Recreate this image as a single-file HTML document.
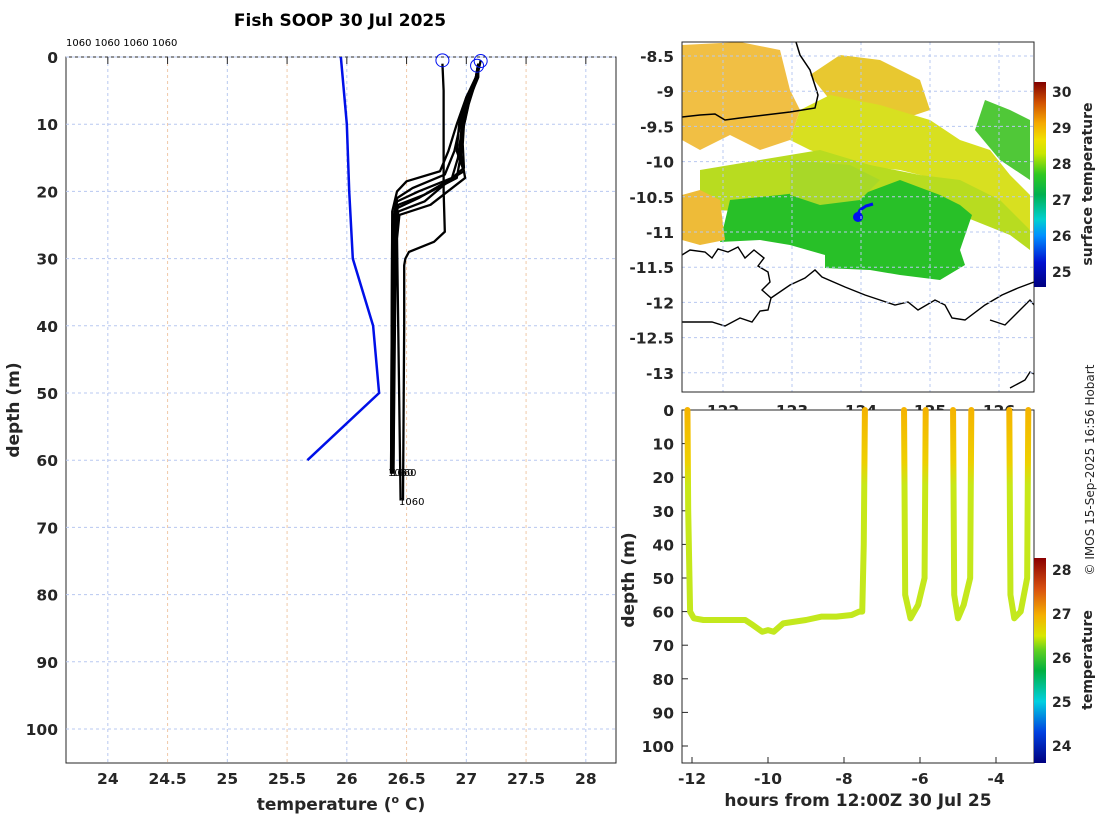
<!DOCTYPE html>
<html><head><meta charset="utf-8">
<style>
html,body{margin:0;padding:0;background:#fff;}
svg{display:block;font-family:"DejaVu Sans","Liberation Sans",sans-serif;}
.tk{font-size:15.5px;font-weight:bold;fill:#262626;}
</style></head>
<body>
<svg id="chart" width="1100" height="820" viewBox="0 0 1100 820">
<defs>
<linearGradient id="sstcb" x1="0" y1="1" x2="0" y2="0">
<stop offset="0" stop-color="#00007f"/><stop offset="0.12" stop-color="#0010d0"/><stop offset="0.25" stop-color="#0090ff"/>
<stop offset="0.33" stop-color="#00d0d0"/><stop offset="0.45" stop-color="#00b050"/><stop offset="0.55" stop-color="#30c820"/>
<stop offset="0.65" stop-color="#c8e600"/><stop offset="0.72" stop-color="#f0e000"/><stop offset="0.8" stop-color="#f5a800"/>
<stop offset="0.9" stop-color="#d05000"/><stop offset="1" stop-color="#800000"/>
</linearGradient>
<linearGradient id="tcb" x1="0" y1="1" x2="0" y2="0">
<stop offset="0" stop-color="#00007f"/><stop offset="0.15" stop-color="#0040e0"/><stop offset="0.3" stop-color="#00d0e0"/>
<stop offset="0.45" stop-color="#00b040"/><stop offset="0.55" stop-color="#60d020"/><stop offset="0.62" stop-color="#d8e800"/>
<stop offset="0.72" stop-color="#f5b000"/><stop offset="0.85" stop-color="#d85010"/><stop offset="1" stop-color="#8a0000"/>
</linearGradient>
<linearGradient id="trackgrad" gradientUnits="userSpaceOnUse" x1="0" y1="410" x2="0" y2="700">
<stop offset="0" stop-color="#f5b400"/><stop offset="0.18" stop-color="#eed000"/><stop offset="0.26" stop-color="#c8e818"/><stop offset="1" stop-color="#c0e820"/>
</linearGradient>
<clipPath id="mapclip"><rect x="682" y="42" width="352" height="350"/></clipPath>
</defs>

<text x="340" y="26" text-anchor="middle" font-size="17" font-weight="bold">Fish SOOP 30 Jul 2025</text>
<text x="66" y="46" font-size="10">1060 1060 1060 1060</text>

<g id="left">
<rect x="66" y="57" width="550" height="706" fill="#fff" stroke="#262626" stroke-width="1"/>
<g id="lgrid"></g><g id="lticks"></g><g id="lines"></g>
<text x="19" y="410" transform="rotate(-90 19 410)" text-anchor="middle" font-size="17" font-weight="bold" fill="#262626">depth (m)</text>
<text x="341" y="810" text-anchor="middle" font-size="17" font-weight="bold" fill="#262626">temperature (<tspan font-size="11" dy="-7">o</tspan><tspan dy="7"> C)</tspan></text>
</g>

<g id="map">
<g clip-path="url(#mapclip)">
<rect x="682" y="42" width="352" height="350" fill="#fff"/>
<polygon fill="#f0b830" opacity="0.9" points="682,45 740,42 780,50 790,90 800,110 790,140 760,150 730,135 700,150 682,140"/>
<polygon fill="#e8c830" points="810,75 840,55 880,60 920,80 930,110 900,120 860,110 830,100"/>
<polygon fill="#d8e020" points="800,110 830,95 880,105 930,120 960,140 990,150 1010,175 1030,195 1030,230 990,200 940,180 900,170 850,165 810,150 790,140"/>
<polygon fill="#b8dc20" points="700,170 760,160 820,150 870,165 920,175 960,180 1000,200 1030,230 1030,250 1010,235 960,215 700,210"/>
<polygon fill="#28c028" points="730,200 780,195 820,190 860,195 900,180 940,195 960,205 972,215 960,250 965,265 940,280 900,275 870,270 825,268 825,255 790,245 760,240 720,242"/>
<polygon fill="#a8d828" points="790,160 850,165 880,180 860,200 820,205 790,195"/>
<polygon fill="#eebb38" points="682,195 700,190 720,200 725,240 700,245 682,240"/>
<polygon fill="#50c838" points="985,100 1010,110 1030,120 1030,180 1000,160 975,130"/>
<path d="M682,117 L700,115 L715,114 L725,120 L740,118 L765,115 L790,112 L815,108 L818,95 L810,70 L800,55 L796,42" fill="none" stroke="#000" stroke-width="1.5"/>
<path d="M682,322 L712,322 L725,326 L740,318 L752,322 L760,311 L768,310 L771,298 L762,290 L770,282 L768,272 L758,266 L764,258 L754,250 L745,258 L738,247 L728,252 L718,249 L712,258 L705,252 L690,250 L682,255 M771,298 L790,285 L805,278 L815,270 L822,277 L845,287 L865,295 L880,300 L895,305 L908,302 L918,310 L935,300 L945,305 L952,318 L965,320 L985,305 L1002,295 L1018,288 L1034,282 M990,320 L1005,325 L1015,315 L1030,300 L1034,305 M1010,388 L1025,380 L1030,372 L1034,374" fill="none" stroke="#000" stroke-width="1.4"/>
<path d="M873,204 L866,206 L860,210 L857,216" fill="none" stroke="#0010f0" stroke-width="3"/>
<circle cx="858" cy="217" r="5" fill="#0010f0"/>
</g>
<g id="mapgrid"></g>
<rect x="682" y="42" width="352" height="350" fill="none" stroke="#262626"/>
<rect x="1034" y="82" width="12" height="205" fill="url(#sstcb)"/>
<g id="sstcbticks"></g>
<text x="1092" y="184" transform="rotate(-90 1092 184)" text-anchor="middle" font-size="14" font-weight="bold" fill="#262626">surface temperature</text>
</g>

<g id="br">
<rect x="682" y="410" width="352" height="353" fill="#fff" stroke="#262626"/>
<g id="brticks"></g><g id="track"></g>
<rect x="1034" y="558" width="12" height="205" fill="url(#tcb)"/>
<g id="tcbticks"></g>
<text x="1092" y="660" transform="rotate(-90 1092 660)" text-anchor="middle" font-size="14" font-weight="bold" fill="#262626">temperature</text>
<text x="634" y="580" transform="rotate(-90 634 580)" text-anchor="middle" font-size="17" font-weight="bold" fill="#262626">depth (m)</text>
<text x="858" y="806" text-anchor="middle" font-size="17" font-weight="bold" fill="#262626">hours from 12:00Z 30 Jul 25</text>
</g>
<text x="1094" y="470" transform="rotate(-90 1094 470)" text-anchor="middle" font-size="12" fill="#262626">© IMOS 15-Sep-2025 16:56 Hobart</text>
</svg>
<script>
const NS="http://www.w3.org/2000/svg";
// ---- data ----
const tempTicks=[24,24.5,25,25.5,26,26.5,27,27.5,28];
const depthTicks=[0,10,20,30,40,50,60,70,80,90,100];
const climDepth=[0,10,20,30,40,50,60];
const climTemp=[25.95,26.0,26.02,26.05,26.22,26.27,25.67];
const prof1Depth=[1,5,10,20,26,27.5,29,30,31,40,66];
const prof1Temp=[26.8,26.81,26.81,26.81,26.82,26.73,26.52,26.49,26.48,26.48,26.47];
const profDepths=[
[1,3,6,10,14,17,18.5,20,23,62],
[1,3,6,10,14,17.5,19.5,21,25,62],
[1,3,7,11,15,18,20,21.5,25,62],
[0.5,3,7,11,15,18,20.5,22,26,62],
[1,3,6,10,14,17,21,22.5,26,62],
[1,3,6,10,13,16.5,21.5,23,27,62],
[1,3,7,10,14,18,22,23.5,27,66]];
const profTemps=[
[27.1,27.09,27.0,26.92,26.85,26.78,26.5,26.42,26.38,26.37],
[27.1,27.08,27.02,26.95,26.9,26.82,26.55,26.42,26.38,26.37],
[27.1,27.09,27.0,26.96,26.93,26.88,26.6,26.42,26.39,26.38],
[27.12,27.09,27.02,26.97,26.95,26.92,26.65,26.43,26.39,26.38],
[27.1,27.08,27.0,26.94,26.92,26.98,26.6,26.42,26.4,26.39],
[27.1,27.1,27.03,26.98,26.97,26.98,26.65,26.43,26.41,26.39],
[27.1,27.08,27.0,26.96,26.95,26.99,26.7,26.44,26.42,26.45]];
const surfCircleTemp=[26.8,27.12,27.09];
const surfCircleDepth=[0.5,0.6,1.3];
const lonTicks=[122,123,124,125,126];
const latTicks=[-8.5,-9,-9.5,-10,-10.5,-11,-11.5,-12,-12.5,-13];
const sstTicks=[25,26,27,28,29,30];
const hourTicks=[-12,-10,-8,-6,-4];
const trackHours=[-12.12,-12.1,-12.05,-11.95,-11.7,-11.2,-10.6,-10.4,-10.15,-10.0,-9.85,-9.6,-9.0,-8.6,-8.2,-7.8,-7.6,-7.52,-7.48,-7.45];
const trackDepth=[0,30,60,62,62.5,62.5,62.5,64,66,65.5,66,63.5,62.5,61.5,61.5,61,60,60,40,0];
const diveStart=[-6.42,-5.13,-3.65];
const diveBottomA=[-6.25,-5.0,-3.52];
const diveBottomB=[-6.05,-4.85,-3.35];
const diveEnd=[-5.85,-4.65,-3.15];
const diveMaxDepth=[62,62,62];
const diveEndDepth=[58,58,60];
const tempCbTicks=[24,25,26,27,28];
// ---- scales ----
const X=t=>66+(t-23.65)*119.5, Y=d=>57+d*6.72;
const MX=lon=>723+(lon-122)*69, MY=lat=>56+(-8.5-lat)*70.4;
const HX=h=>692+(h+12)*38, HY=d=>410+d*3.36;
const CBS=v=>92+(30-v)*36, CBT=v=>570+(28-v)*44;
function el(tag,attrs,parent,text){const e=document.createElementNS(NS,tag);for(const k in attrs)e.setAttribute(k,attrs[k]);if(text!==undefined)e.textContent=text;parent.appendChild(e);return e;}
const g=id=>document.getElementById(id);
tempTicks.forEach(t=>{
 const l=el('line',{x1:X(t),x2:X(t),y1:57,y2:763,stroke:(t%1===0)?'#b8c8f0':'#f0c8a8','stroke-dasharray':'3,3','stroke-width':1},g('lgrid'));
 
 
 const tk=el('line',{x1:X(t),x2:X(t),y1:57,y2:64,stroke:'#262626'},g('lticks'));
 
 
 const tx=el('text',{x:X(t),y:784,'text-anchor':'middle',class:'tk'},g('lticks'),String(t));
 
 
});
depthTicks.forEach(d=>{
 const l=el('line',{x1:66,x2:616,y1:Y(d),y2:Y(d),stroke:'#b8c8f0','stroke-dasharray':'3,3'},g('lgrid'));
 
 
 const tx=el('text',{x:58,y:Y(d)+6,'text-anchor':'end',class:'tk'},g('lticks'),String(d));
 
 
});
const pts=(ts,ds)=>ts.map((t,i)=>X(t)+','+Y(ds[i])).join(' ');
let c=el('polyline',{points:pts(climTemp,climDepth),fill:'none',stroke:'#0010e8','stroke-width':2.5},g('lines'));


profTemps.forEach((ts,i)=>{
 const p=el('polyline',{points:pts(ts,profDepths[i]),fill:'none',stroke:'#000','stroke-width':2.3,'stroke-linejoin':'round'},g('lines'));
 
 
});
c=el('polyline',{points:pts(prof1Temp,prof1Depth),fill:'none',stroke:'#000','stroke-width':2.3},g('lines'));


surfCircleTemp.forEach((t,i)=>{
 const ci=el('circle',{cx:X(t),cy:Y(surfCircleDepth[i]),r:6.5,fill:'none',stroke:'#0010f0','stroke-width':1},g('lines'));
 
 
});
[[388,476],[391,476],[399,505]].forEach(p=>{
 const tx=el('text',{x:p[0],y:p[1],'font-size':10},g('lines'),'1060');
 
 
});
lonTicks.forEach(lon=>{
 const l=el('line',{x1:MX(lon),x2:MX(lon),y1:42,y2:392,stroke:'#b8c8f0','stroke-dasharray':'3,3'},g('mapgrid'));
 
 
 const tx=el('text',{x:MX(lon),y:416,'text-anchor':'middle',class:'tk'},g('mapgrid'),String(lon));
 
 
});
latTicks.forEach(lat=>{
 const l=el('line',{x1:682,x2:1034,y1:MY(lat),y2:MY(lat),stroke:'#b8c8f0','stroke-dasharray':'3,3'},g('mapgrid'));
 
 
 const tx=el('text',{x:674,y:MY(lat)+6,'text-anchor':'end',class:'tk'},g('mapgrid'),String(lat));
 
 
});
sstTicks.forEach(v=>{
 const tx=el('text',{x:1052,y:CBS(v)+5,'font-size':14,'font-weight':'bold',fill:'#262626'},g('sstcbticks'),String(v));
 
 
});
hourTicks.forEach(h=>{
 const tx=el('text',{x:HX(h),y:784,'text-anchor':'middle',class:'tk'},g('brticks'),String(h));
 
 
 el('line',{x1:HX(h),x2:HX(h),y1:763,y2:757,stroke:'#262626'},g('brticks'));
});
depthTicks.forEach(d=>{
 const tx=el('text',{x:674,y:HY(d)+6,'text-anchor':'end',class:'tk'},g('brticks'),String(d));
 
 
 el('line',{x1:682,x2:688,y1:HY(d),y2:HY(d),stroke:'#262626'},g('brticks'));
});
const tp=el('polyline',{points:trackHours.map((h,i)=>HX(h)+','+HY(trackDepth[i])).join(' '),fill:'none',stroke:'url(#trackgrad)','stroke-width':6,'stroke-linejoin':'round','stroke-linecap':'round'},g('track'));


diveStart.forEach((s,i)=>{
 const hs=[s,s+0.03,diveBottomA[i],diveBottomB[i],diveEnd[i]-0.03,diveEnd[i]];
 const ds=[0,55,diveMaxDepth[i],diveEndDepth[i],50,0];
 const p=el('polyline',{points:hs.map((h,j)=>HX(h)+','+HY(ds[j])).join(' '),fill:'none',stroke:'url(#trackgrad)','stroke-width':6,'stroke-linejoin':'round','stroke-linecap':'round'},g('track'));
 
 
});
tempCbTicks.forEach(v=>{
 const tx=el('text',{x:1052,y:CBT(v)+5,'font-size':14,'font-weight':'bold',fill:'#262626'},g('tcbticks'),String(v));
 
 
});
</script>
</body></html>
